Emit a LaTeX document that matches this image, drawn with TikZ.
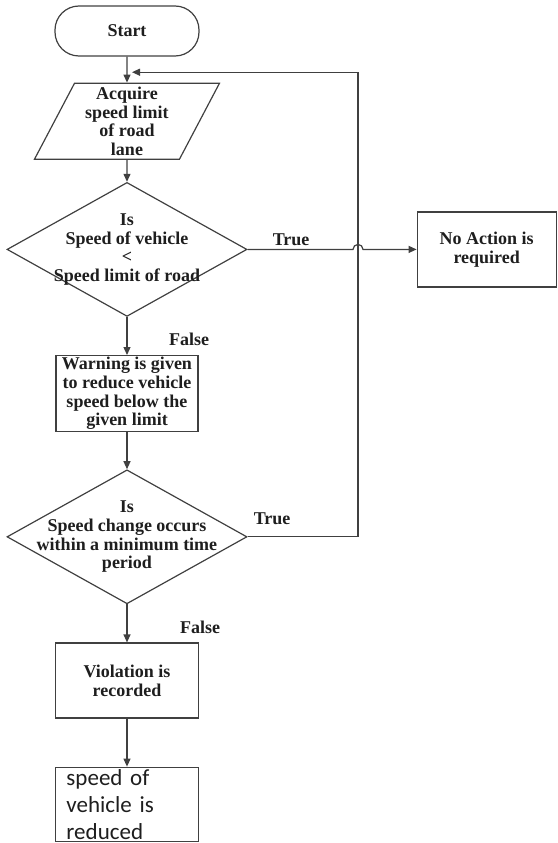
\documentclass[tikz,border=0pt]{standalone}
\usepackage{fontspec}
\setmainfont{Liberation Serif}
\newfontfamily\calibrifont{Carlito}
\usepackage{tikz}
\usetikzlibrary{arrows.meta,shapes,positioning,calc}
\definecolor{flowline}{RGB}{64,64,64}
\definecolor{flowtext}{RGB}{30,30,30}

\begin{document}
\begin{tikzpicture}[
    node distance=25pt,
    box/.style={rectangle, draw=flowline, line width=1.2pt, align=center, text=flowtext, font=\fontsize{18}{18.7}\selectfont\bfseries, inner sep=1pt},
    terminal/.style={box, rounded corners=24pt, minimum width=144pt, minimum height=50pt},
    process/.style={box, minimum width=142pt, minimum height=76pt},
    io/.style={box, trapezium, trapezium left angle=60.5, trapezium right angle=119.5, trapezium stretches body, minimum width=185pt, minimum height=76pt},
    decision/.style={box, diamond, aspect=1.8, inner sep=-16pt, minimum width=240pt, minimum height=134pt},
    plainbox/.style={box, font=\calibrifont\fontsize{23}{27}\selectfont, align=left, text width=121pt, inner xsep=11pt, inner ysep=-6pt, minimum width=143pt, minimum height=74pt},
    lbl/.style={inner sep=0pt, text=flowtext, font=\fontsize{18}{18.7}\selectfont\bfseries},
    arrow/.style={-{Triangle[length=8pt,width=7pt]}, line width=1.2pt, draw=flowline}
]
    \useasboundingbox (-127pt,31pt) rectangle (430pt,-812pt);

    \node[terminal] (start) {Start};
    \node[io, below=26pt of start] (acquire) {Acquire\\speed limit\\of road\\lane};
    \node[decision, below=22pt of acquire] (check) {Is\\Speed of vehicle\\<\\Speed limit of road};
    \node[box, right=169pt of check, minimum width=139pt, minimum height=75pt] (noaction) {No Action is\\required};
    \node[process, below=38pt of check] (warn) {Warning is given\\to reduce vehicle\\speed below the\\given limit};
    \node[decision, below=37pt of warn] (change) {Is\\Speed change occurs\\within a minimum time\\period};
    \node[process, below=38pt of change, minimum width=143pt, minimum height=75pt] (record) {Violation is\\recorded};
    \node[plainbox, below=48pt of record] (reduced) {speed of\\vehicle is\\reduced};

    \node[lbl, above right=3pt and 25pt of check.east] (true1) {True};
    \node[lbl, below right=16pt and 42pt of check.south] (false1) {False};
    \node[lbl, above right=12pt and 6pt of change.east] (true2) {True};
    \node[lbl, below right=16pt and 53pt of change.south] (false2) {False};

    \coordinate (back) at ($(start.south)!0.6!(acquire.north)+(5pt,0)$);
    \coordinate[right=226pt of back] (rail);
    \coordinate (hop) at (rail |- check.east);

    \draw[arrow] (start) -- (acquire);
    \draw[arrow] (acquire) -- (check);
    \draw[arrow] (check) -- (warn);
    \draw[arrow] (warn) -- (change);
    \draw[arrow] (change) -- (record);
    \draw[arrow] (record) -- (reduced);

    \draw[arrow] (check.east) -- ([xshift=-5pt]hop) arc[start angle=180, end angle=0, radius=5pt] -- (noaction.west);
    \draw[arrow] (change.east) -| (rail) -- (back);
\end{tikzpicture}
\end{document}
